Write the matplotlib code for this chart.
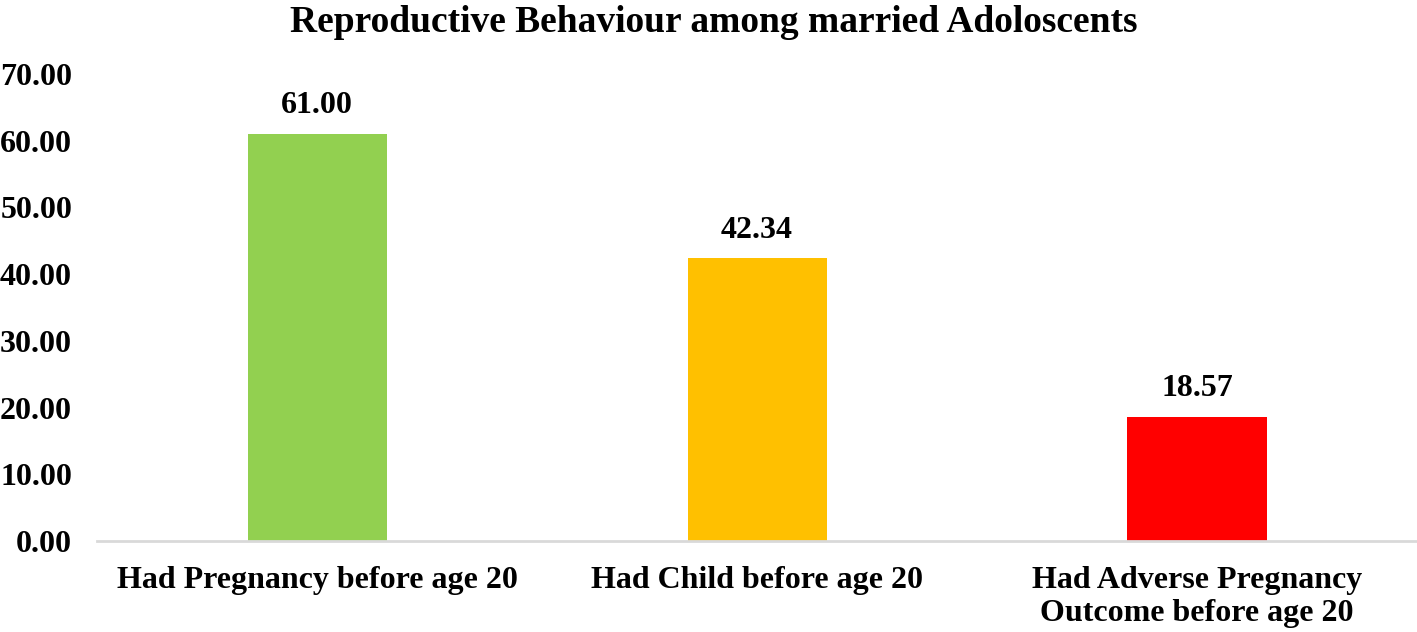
import matplotlib
matplotlib.use("Agg")
import matplotlib.pyplot as plt

categories = ["Had Pregnancy before age 20", "Had Child before age 20",
              "Had Adverse Pregnancy\nOutcome before age 20"]
values = [61.00, 42.34, 18.57]
colors = ["#92D050", "#FFC000", "#FF0000"]
yticks = [0, 10, 20, 30, 40, 50, 60, 70]
title = "Reproductive Behaviour among married Adoloscents"

plt.rcParams['font.family'] = ['Liberation Serif', 'DejaVu Serif']
plt.rcParams['font.weight'] = 'bold'

fig = plt.figure(figsize=(14.17, 6.32), dpi=100)
ax = fig.add_axes([0.0685, 0.144, 0.9315, 0.739])

x = list(range(len(categories)))
bars = ax.bar(x, values, width=0.316, color=colors)
ax.set_xlim(-0.5, len(categories) - 0.5)
ax.set_ylim(0, 70)
ax.set_yticks(yticks)
ax.set_yticklabels([f"{v:.2f}" for v in yticks], fontsize=23, fontweight='bold')
ax.set_xticks(x)
ax.set_xticklabels(categories, fontsize=23, fontweight='bold', linespacing=1.2)
ax.tick_params(axis='both', length=0)
ax.tick_params(axis='y', pad=18)
ax.tick_params(axis='x', pad=18)
for s in ['top', 'right', 'left']:
    ax.spines[s].set_visible(False)
ax.spines['bottom'].set_color('#D9D9D9')
ax.spines['bottom'].set_linewidth(2)

for b, v in zip(bars, values):
    ax.annotate(f"{v:.2f}", (b.get_x() + b.get_width() / 2, v),
                xytext=(0, 10), textcoords='offset points',
                ha='center', va='bottom', fontsize=23, fontweight='bold')

fig.text(0.504, 0.965, title, ha='center', va='center',
         fontsize=27, fontweight='bold')

fig.savefig("out.png", dpi=100)
